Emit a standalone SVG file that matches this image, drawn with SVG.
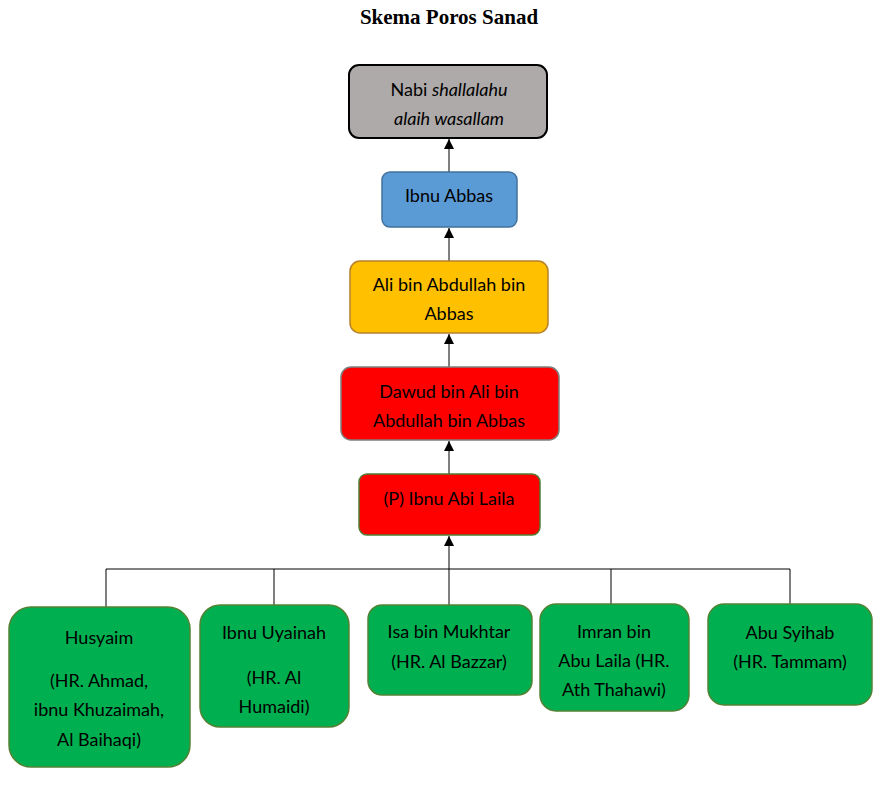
<svg xmlns="http://www.w3.org/2000/svg" width="887" height="787" viewBox="0 0 887 787">
<defs>
<marker id="arr2" viewBox="0 0 10 10" refX="10" refY="5" markerWidth="10" markerHeight="10" orient="auto" markerUnits="userSpaceOnUse">
<path d="M0,0 L10,5 L0,10 z" fill="#000"/>
</marker>
</defs>
<style>
.t{font-family:Lato,"Open Sans","Liberation Sans",sans-serif;font-size:18px;fill:#000;text-anchor:middle}
.c{stroke:#000;stroke-width:1;fill:none}
.g{fill:#00b050;stroke:#548235;stroke-width:1.5}
</style>
<rect width="887" height="787" fill="#fff"/>
<text x="449" y="24" text-anchor="middle" font-family="'Liberation Serif',serif" font-weight="bold" font-size="21">Skema Poros Sanad</text>
<g id="connectors">
<line class="c" x1="449" y1="172" x2="449" y2="139" marker-end="url(#arr2)"/>
<line class="c" x1="449" y1="261" x2="449" y2="228" marker-end="url(#arr2)"/>
<line class="c" x1="449" y1="367" x2="449" y2="334" marker-end="url(#arr2)"/>
<line class="c" x1="449" y1="474" x2="449" y2="441" marker-end="url(#arr2)"/>
<line class="c" x1="449" y1="569" x2="449" y2="536" marker-end="url(#arr2)"/>
<polyline class="c" points="106,607 106,569 790,569 790,604"/>
<line class="c" x1="274" y1="569" x2="274" y2="605"/>
<line class="c" x1="449" y1="569" x2="449" y2="605"/>
<line class="c" x1="611" y1="569" x2="611" y2="604"/>
</g>
<g id="nabi">
<rect x="349" y="65" width="198" height="73" rx="10" fill="#aeaaaa" stroke="#000" stroke-width="2"/>
<text class="t" x="449" y="96">Nabi <tspan font-style="italic">shallalahu</tspan></text>
<text class="t" x="449" y="125" font-style="italic">alaih wasallam</text>
</g>
<g id="ibnu-abbas">
<rect x="382" y="172" width="135" height="55" rx="8" fill="#5b9bd5" stroke="#41719c" stroke-width="1.5"/>
<text class="t" x="449" y="202">Ibnu Abbas</text>
</g>
<g id="ali">
<rect x="350" y="261" width="198" height="72" rx="10" fill="#ffc000" stroke="#b7802c" stroke-width="1.5"/>
<text class="t" x="449" y="291">Ali bin Abdullah bin</text>
<text class="t" x="449" y="320">Abbas</text>
</g>
<g id="dawud">
<rect x="341" y="367" width="218" height="73" rx="10" fill="#ff0000" stroke="#7f7f7f" stroke-width="1.5"/>
<text class="t" x="449" y="398">Dawud bin Ali bin</text>
<text class="t" x="449" y="427">Abdullah bin Abbas</text>
</g>
<g id="ibnu-abi-laila">
<rect x="359" y="474" width="181" height="61" rx="8" fill="#ff0000" stroke="#507e32" stroke-width="1.5"/>
<text class="t" x="449" y="505">(P) Ibnu Abi Laila</text>
</g>
<g id="husyaim">
<rect class="g" x="9" y="607" width="181" height="160" rx="22"/>
<text class="t" x="99" y="644">Husyaim</text>
<text class="t" x="99" y="687">(HR. Ahmad,</text>
<text class="t" x="99" y="716">ibnu Khuzaimah,</text>
<text class="t" x="99" y="746">Al Baihaqi)</text>
</g>
<g id="ibnu-uyainah">
<rect class="g" x="200" y="605" width="149" height="122" rx="20"/>
<text class="t" x="274" y="639">Ibnu Uyainah</text>
<text class="t" x="274" y="684">(HR. Al</text>
<text class="t" x="274" y="713">Humaidi)</text>
</g>
<g id="isa">
<rect class="g" x="368" y="605" width="164" height="90" rx="14"/>
<text class="t" x="449" y="638">Isa bin Mukhtar</text>
<text class="t" x="449" y="668">(HR. Al Bazzar)</text>
</g>
<g id="imran">
<rect class="g" x="540" y="604" width="149" height="107" rx="16"/>
<text class="t" x="614" y="638">Imran bin</text>
<text class="t" x="614" y="667">Abu Laila (HR.</text>
<text class="t" x="614" y="696">Ath Thahawi)</text>
</g>
<g id="abu-syihab">
<rect class="g" x="708" y="604" width="164" height="101" rx="16"/>
<text class="t" x="790" y="639">Abu Syihab</text>
<text class="t" x="790" y="668">(HR. Tammam)</text>
</g>
</svg>
